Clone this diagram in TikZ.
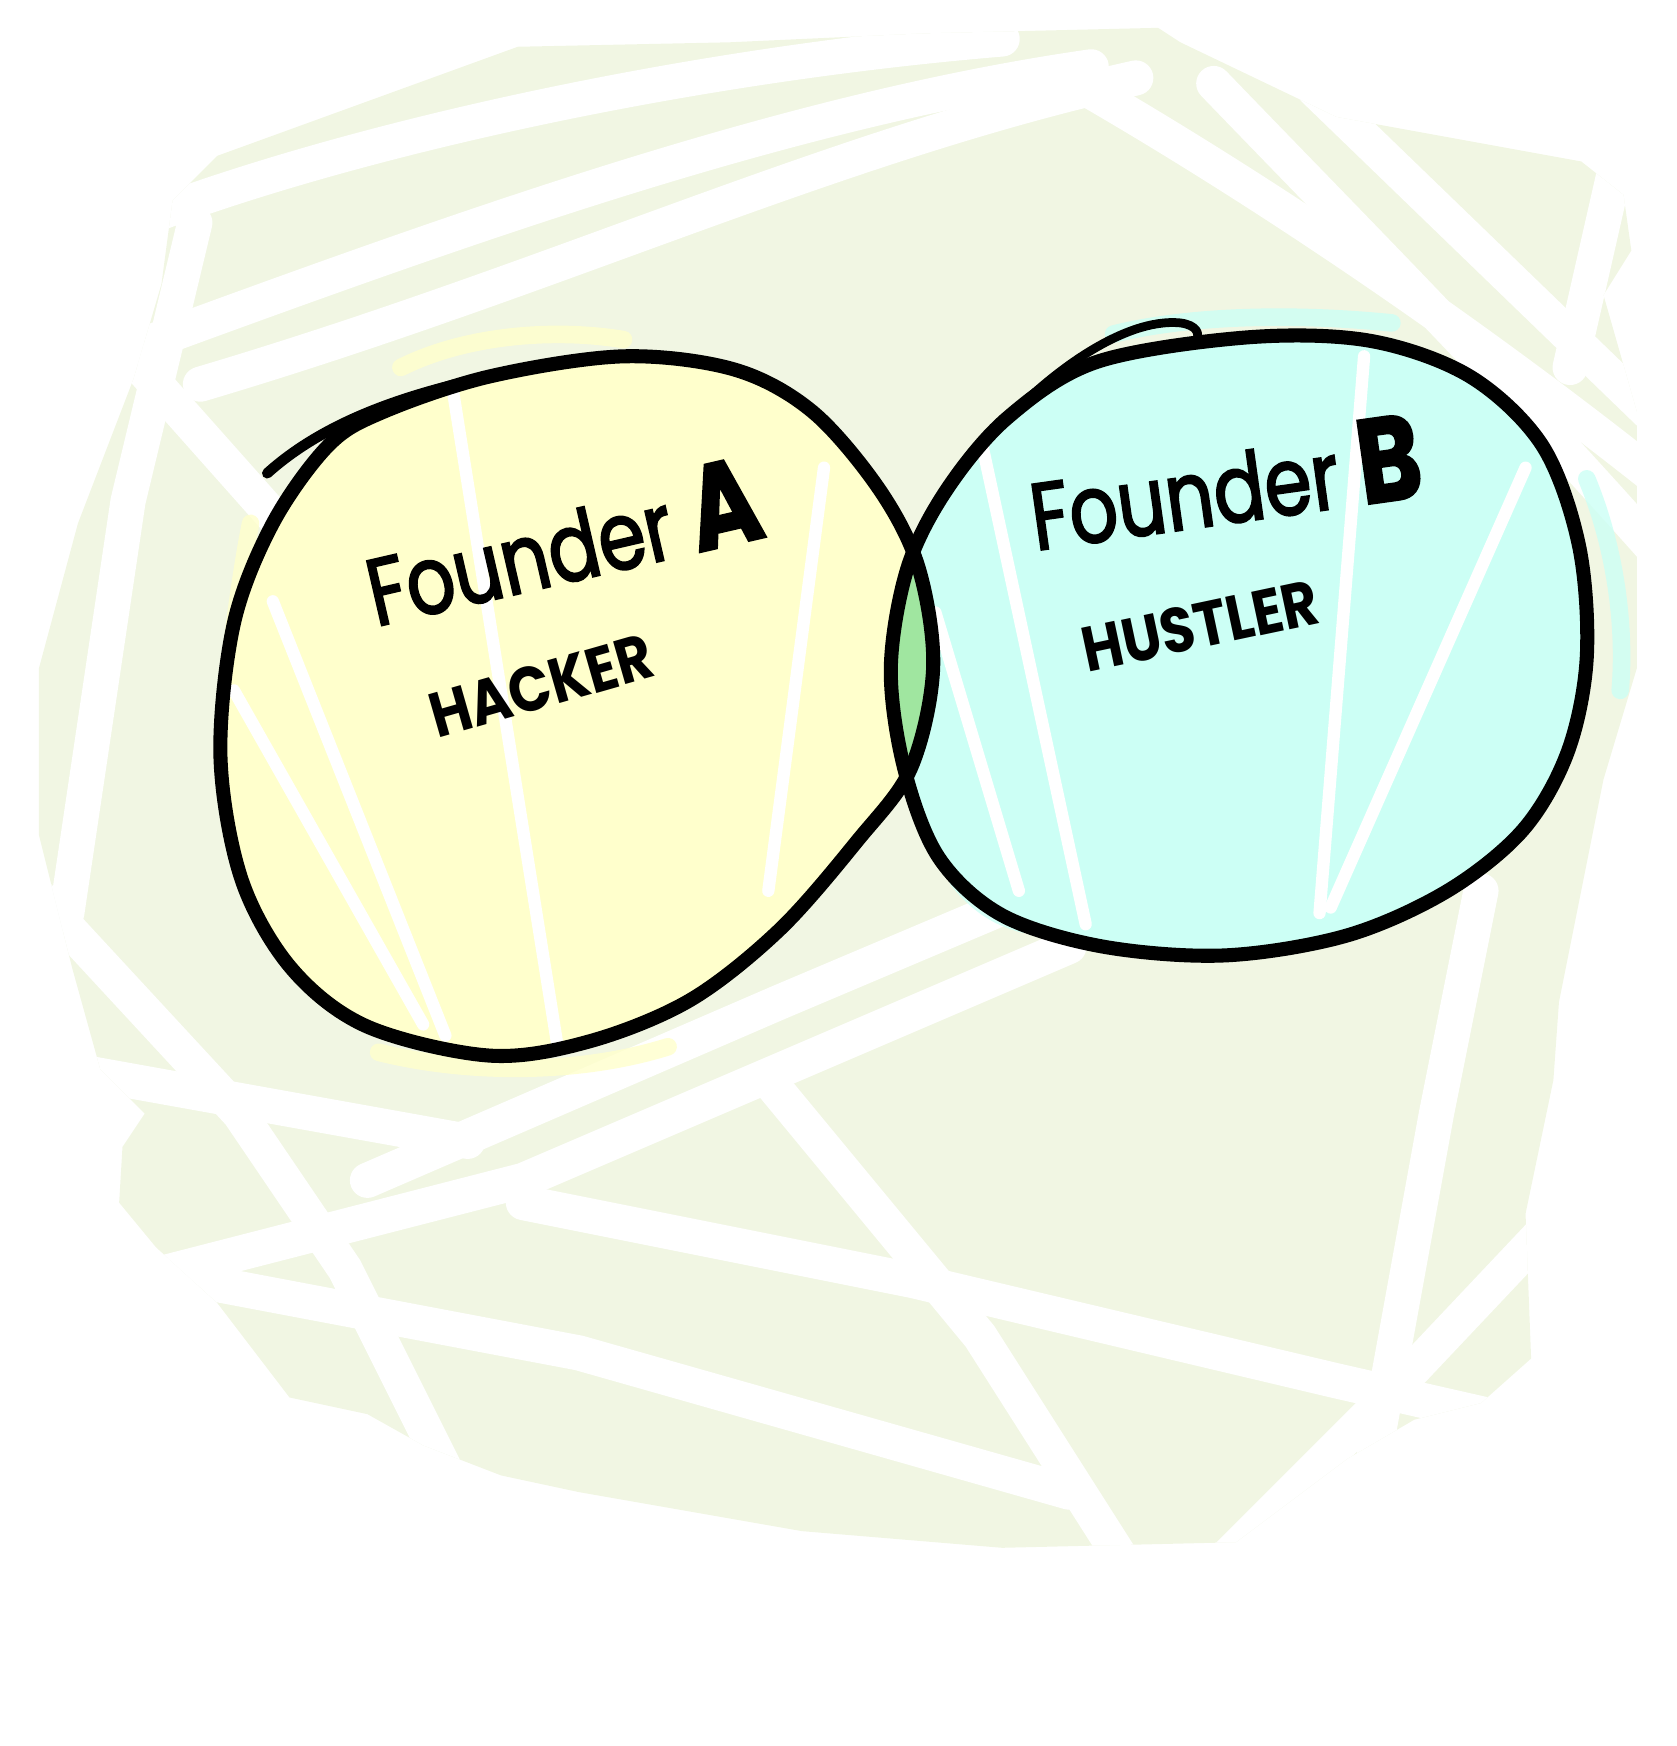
\documentclass[tikz,border=0pt]{standalone}
\usepackage{fontspec}
\setmainfont{Poppins}
\newfontfamily\handfont[FakeStretch=0.8, FakeBold=2]{Poppins}
\newfontfamily\rolefont[FakeStretch=0.88]{Poppins}
\usepackage{tikz}
\usetikzlibrary{positioning}
\definecolor{paper}{RGB}{241,246,227}
\definecolor{hackeryellow}{RGB}{255,255,204}
\definecolor{hustlercyan}{RGB}{204,255,245}
\definecolor{overlapgreen}{RGB}{160,230,160}
\newcommand{\bigletter}[1]{{\fontsize{34}{36}\selectfont\bfseries #1}}

\def\paperpath{(195,140) -- (465,42) -- (655,38) -- (830,30) -- (1040,25) -- (1060,38) -- (1200,105) -- (1420,145) -- (1458,175) -- (1465,225) -- (1440,265) -- (1470,370) -- (1470,600) -- (1440,700) -- (1400,900) -- (1395,970) -- (1370,1090) -- (1375,1220) -- (1330,1260) -- (1270,1275) -- (1210,1310) -- (1110,1385) -- (900,1390) -- (720,1375) -- (520,1340) -- (450,1325) -- (380,1298) -- (330,1270) -- (260,1255) -- (195,1170) -- (140,1120) -- (107,1080) -- (110,1030) -- (130,1000) -- (90,960) -- (65,870) -- (35,750) -- (35,600) -- (70,470) -- (120,340) -- (145,255) -- (155,180) -- cycle}
\def\blobA{plot[smooth cycle, tension=0.55] coordinates {(344,370) (440,338) (560,320) (660,332) (730,370) (790,440) (825,510) (838,600) (818,690) (770,755) (700,835) (620,898) (530,935) (440,948) (330,922) (262,870) (217,790) (198,680) (210,560) (245,470) (295,400)}}
\def\blobB{plot[smooth cycle, tension=0.55] coordinates {(985,325) (1120,303) (1230,306) (1320,338) (1385,400) (1418,490) (1425,590) (1408,675) (1368,745) (1300,800) (1210,840) (1100,858) (990,850) (900,822) (843,770) (812,690) (800,600) (815,510) (850,440) (905,375)}}

\begin{document}
\begin{tikzpicture}[
    x=0.011136cm, y=-0.011136cm,
    outline/.style={draw=black, line width=4pt, line join=round, line cap=round},
    band/.style={draw=white, line width=10pt, line cap=round},
    streak/.style={draw=white, line width=3.5pt, line cap=round},
    smudge/.style={line width=5pt, line cap=round, opacity=0.8},
    founder/.style={font=\handfont\fontsize{27}{30}\selectfont, inner sep=0pt},
    role/.style={font=\rolefont\fontsize{18}{21}\selectfont\bfseries, inner sep=0pt},
]
\useasboundingbox (0,0) rectangle (1506,1568);

% paper with white bands
\fill[paper] \paperpath;
\begin{scope}
\clip \paperpath;
\draw[band] (120,200) .. controls (300,130) and (600,60) .. (900,35);
\draw[band] (100,320) .. controls (400,210) and (700,100) .. (980,60);
\draw[band] (180,345) .. controls (500,250) and (750,130) .. (1020,70);
\draw[band] (950,65) .. controls (1100,150) and (1300,280) .. (1500,440);
\draw[band] (1090,75) .. controls (1220,210) and (1350,340) .. (1500,510);
\draw[band] (1180,80) -- (1480,370);
\draw[band] (1460,110) -- (1410,330);
\draw[band] (175,200) -- (115,450) -- (60,820);
\draw[band] (100,300) -- (260,480);
\draw[band] (30,800) -- (215,1000) -- (310,1140) -- (410,1340);
\draw[band] (690,970) -- (880,1200) -- (1020,1420);
\draw[band] (120,1150) -- (470,1060) -- (960,850);
\draw[band] (330,1060) -- (700,900) -- (960,790);
\draw[band] (30,955) -- (420,1025);
\draw[band] (150,1145) -- (520,1215) -- (960,1340);
\draw[band] (470,1080) -- (820,1150) -- (1200,1240) -- (1420,1290);
\draw[band] (1330,800) -- (1290,1000) -- (1230,1330);
\draw[band] (1080,1420) -- (1250,1250) -- (1420,1070);
\end{scope}

% fills
\draw[smudge, hackeryellow] (360,330) .. controls (420,300) and (500,295) .. (560,305);
\draw[smudge, hackeryellow] (225,470) .. controls (215,520) and (205,600) .. (200,660);
\draw[smudge, hackeryellow] (340,945) .. controls (420,965) and (520,965) .. (600,940);
\draw[smudge, hustlercyan] (1425,430) .. controls (1450,490) and (1460,560) .. (1455,620);
\draw[smudge, hustlercyan] (1000,300) .. controls (1060,285) and (1150,280) .. (1250,290);
\draw[smudge, hustlercyan] (860,790) .. controls (880,815) and (900,825) .. (920,830);
\fill[hackeryellow] \blobA;
\fill[hustlercyan] \blobB;
\begin{scope}
\clip \blobA;
\draw[streak] (405,340) -- (500,935);
\draw[streak] (245,540) -- (400,930);
\draw[streak] (210,620) -- (380,920);
\draw[streak] (740,420) -- (690,800);
\end{scope}
\begin{scope}
\clip \blobB;
\draw[streak] (880,390) -- (975,830);
\draw[streak] (1225,320) -- (1185,820);
\draw[streak] (1370,420) -- (1195,815);
\draw[streak] (840,550) -- (915,800);
\end{scope}
\begin{scope}
\clip \blobA;
\fill[overlapgreen] \blobB;
\end{scope}

% outlines
\draw[outline] \blobA;
\draw[outline] \blobB;
\draw[outline, line width=3pt] (440,338) .. controls (360,355) and (290,380) .. (240,425);
\draw[outline, line width=2.5pt] (890,392) .. controls (940,335) and (1010,285) .. (1060,290) .. controls (1075,292) and (1078,300) .. (1074,306);

% labels
\node[founder, rotate=13] (founderA) at (505,486) {Founder \bigletter{A}};
\node[role, rotate=16] (hacker) at (486,616) {HACKER};
\node[founder, rotate=8] (founderB) at (1100,433) {Founder \bigletter{B}};
\node[role, rotate=12] (hustler) at (1078,562) {HUSTLER};

\end{tikzpicture}
\end{document}
